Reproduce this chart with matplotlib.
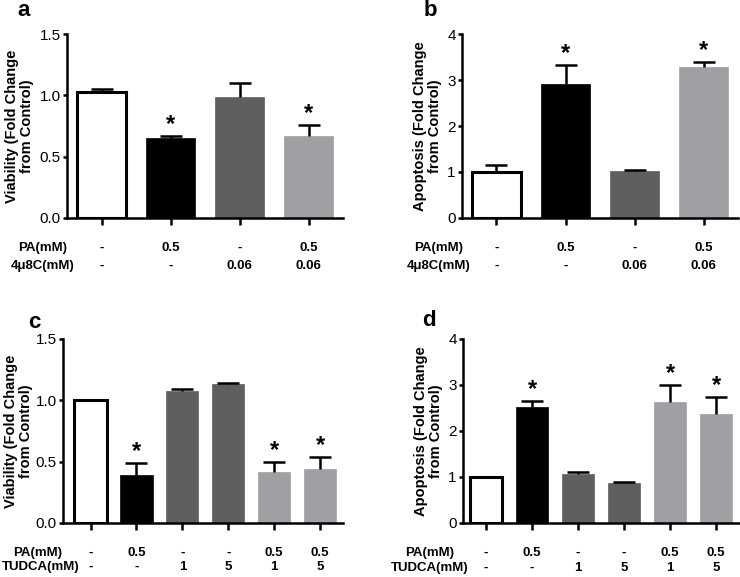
import matplotlib
matplotlib.use('Agg')
import matplotlib.pyplot as plt
from matplotlib.transforms import blended_transform_factory

plt.rcParams['font.family'] = ['Liberation Sans', 'DejaVu Sans']

# panel a / b: PA + 4u8C
ab_pa = ['-', '0.5', '-', '0.5']
ab_drug = ['-', '-', '0.06', '0.06']
a_vals = [1.03, 0.65, 0.99, 0.665]
a_err = [0.02, 0.015, 0.11, 0.095]
a_star = [False, True, False, True]
b_vals = [1.0, 2.92, 1.03, 3.28]
b_err = [0.15, 0.41, 0.01, 0.12]
b_star = [False, True, False, True]

# panel c / d: PA + TUDCA
cd_pa = ['-', '0.5', '-', '-', '0.5', '0.5']
cd_drug = ['-', '-', '1', '5', '1', '5']
c_vals = [1.0, 0.395, 1.08, 1.13, 0.415, 0.44]
c_err = [0.0, 0.095, 0.015, 0.012, 0.085, 0.095]
c_star = [False, True, False, False, True, True]
d_vals = [1.0, 2.53, 1.07, 0.88, 2.64, 2.36]
d_err = [0.0, 0.13, 0.04, 0.01, 0.35, 0.38]
d_star = [False, True, False, False, True, True]

WHITE, BLACK, DARK, LIGHT = 'white', 'black', '#5f5f5f', '#a0a0a4'
ab_colors = [WHITE, BLACK, DARK, LIGHT]
cd_colors = [WHITE, BLACK, DARK, DARK, LIGHT, LIGHT]

W, H = 740, 577
fig = plt.figure(figsize=(W / 100, H / 100), dpi=100)


def px_axes(x0, x1, ytop, ybot):
    return fig.add_axes([x0 / W, 1 - ybot / H, (x1 - x0) / W, (ybot - ytop) / H])


def panel(ax, vals, err, stars, colors, ymax, yticks, ylabel, xlim, lab_x):
    x = list(range(len(vals)))
    for i, v in enumerate(vals):
        if colors[i] == WHITE:
            ax.bar(i, v, width=0.7, color='white', edgecolor='black', linewidth=2.2, zorder=2)
        else:
            ax.bar(i, v, width=0.7, color=colors[i], edgecolor=colors[i], linewidth=0.5, zorder=2)
    eb = ax.errorbar(x, vals, yerr=[[0] * len(err), err], fmt='none', ecolor='black',
                     elinewidth=1.8, capsize=8, capthick=1.8, zorder=3)
    eb[1][0].set_visible(False)
    for i, s in enumerate(stars):
        if s:
            ax.annotate('*', (i, vals[i] + err[i]), xytext=(0, 0), textcoords='offset points',
                        ha='center', va='bottom', fontsize=17, fontweight='bold')
    ax.set_xlim(*xlim)
    ax.set_ylim(0, ymax)
    ax.set_yticks(yticks)
    ax.set_xticks(x)
    ax.set_xticklabels([''] * len(x))
    for s in ['top', 'right']:
        ax.spines[s].set_visible(False)
    for s in ['left', 'bottom']:
        ax.spines[s].set_linewidth(1.8)
    ax.tick_params(axis='y', width=1.8, length=3, pad=1.5, labelsize=11, direction='out')
    ax.tick_params(axis='x', width=1.8, length=5, direction='out')
    ax.set_ylabel(ylabel, fontsize=10.5, fontweight='bold', linespacing=1.1)
    ax.yaxis.set_label_coords(lab_x / W, 0.5,
                              transform=blended_transform_factory(fig.transFigure, ax.transAxes))


def table(ax, pa, drug, drug_name, lab_x, y1, y2, ha='center'):
    for i in range(len(pa)):
        xd = ax.transData.transform((i, 0))[0] / W
        fig.text(xd, 1 - y1 / H, pa[i], ha='center', va='center', fontsize=9.5, fontweight='bold')
        fig.text(xd, 1 - y2 / H, drug[i], ha='center', va='center', fontsize=9.5, fontweight='bold')
    fig.text(lab_x[0] / W, 1 - y1 / H, 'PA(mM)', ha=ha, va='center', fontsize=9.5, fontweight='bold')
    fig.text(lab_x[1] / W, 1 - y2 / H, drug_name, ha=ha, va='center', fontsize=9.5, fontweight='bold')


ax_a = px_axes(67, 343, 34, 218)
panel(ax_a, a_vals, a_err, a_star, ab_colors, 1.5, [0.0, 0.5, 1.0, 1.5],
      'Viability (Fold Change\nfrom Control)', (-0.5, 3.5), 34)
ax_a.set_yticklabels(['0.0', '0.5', '1.0', '1.5'])

ax_b = px_axes(462, 738, 34, 218)
panel(ax_b, b_vals, b_err, b_star, ab_colors, 4, [0, 1, 2, 3, 4],
      'Apoptosis (Fold Change\nfrom Control)', (-0.5, 3.5), 442)

ax_c = px_axes(63, 343, 339, 523)
panel(ax_c, c_vals, c_err, c_star, cd_colors, 1.5, [0.0, 0.5, 1.0, 1.5],
      'Viability (Fold Change\nfrom Control)', (-0.6, 5.5), 33)
ax_c.set_yticklabels(['0.0', '0.5', '1.0', '1.5'])

ax_d = px_axes(463, 740, 339, 523)
panel(ax_d, d_vals, d_err, d_star, cd_colors, 4, [0, 1, 2, 3, 4],
      'Apoptosis (Fold Change\nfrom Control)', (-0.5, 5.52), 443)

fig.canvas.draw()
table(ax_a, ab_pa, ab_drug, '4\u03bc8C(mM)', (43, 43), 248, 266)
table(ax_b, ab_pa, ab_drug, '4\u03bc8C(mM)', (439, 439), 248, 266)
table(ax_c, cd_pa, cd_drug, 'TUDCA(mM)', (62, 79), 553, 567, ha='right')
table(ax_d, cd_pa, cd_drug, 'TUDCA(mM)', (430, 430), 553, 568)

for lab, x, y in [('a', 24, 10), ('b', 430, 10), ('c', 34, 323), ('d', 429, 320)]:
    fig.text(x / W, 1 - y / H, lab, ha='center', va='center', fontsize=16, fontweight='bold')

fig.savefig('out.png', dpi=100)
